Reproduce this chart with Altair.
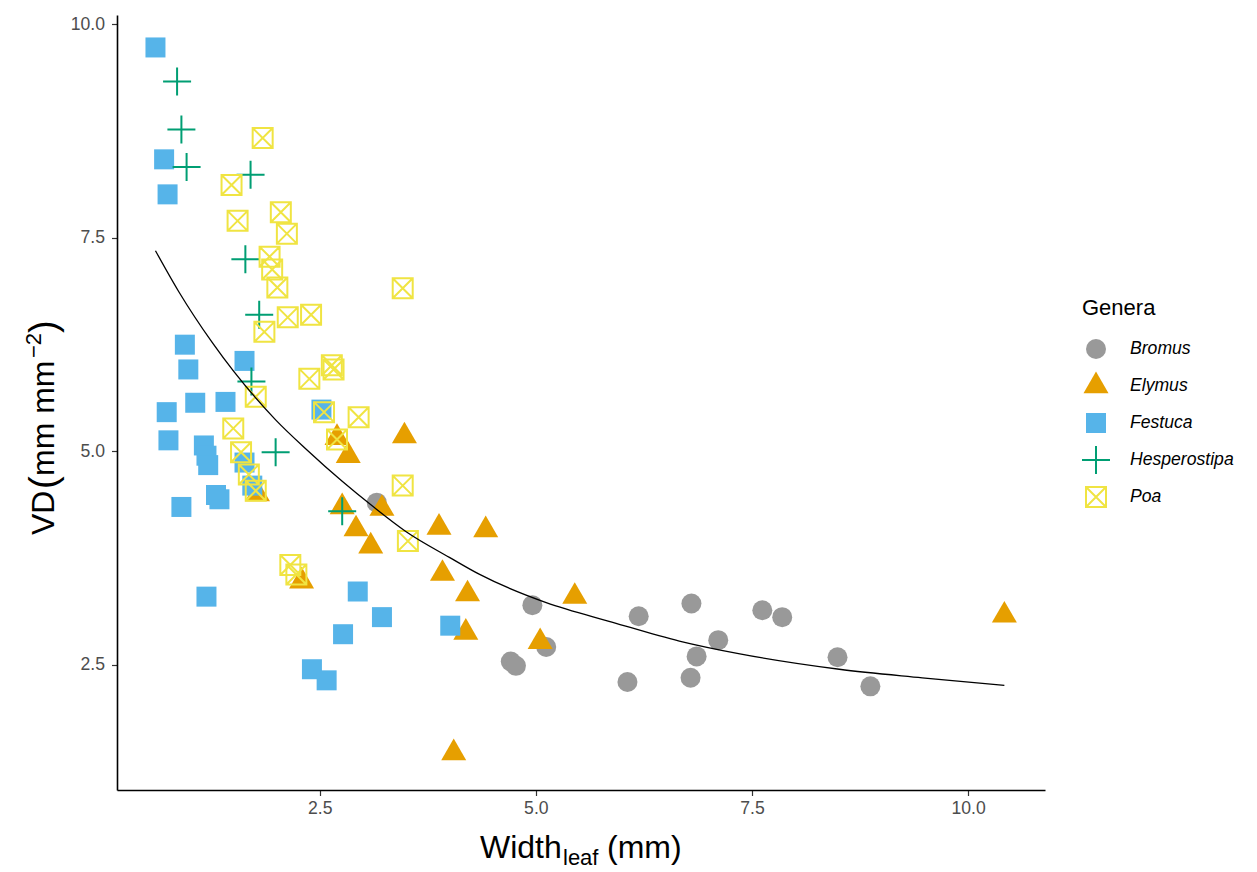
import altair as alt
import pandas as pd

genera = ["Bromus", "Elymus", "Festuca", "Hesperostipa", "Poa"]

bromus_x = [3.16, 4.71, 4.77, 4.96, 5.12, 6.06, 6.19, 6.79, 6.80, 6.86, 7.11, 7.62, 7.85, 8.49, 8.87]
bromus_y = [4.40, 2.54, 2.49, 3.20, 2.71, 2.30, 3.07, 2.35, 3.22, 2.60, 2.79, 3.14, 3.06, 2.59, 2.25]

elymus_x = [3.48, 2.83, 2.70, 1.78, 2.76, 3.22, 2.92, 3.09, 3.88, 3.92, 2.29, 4.42, 4.21, 5.45, 4.19, 5.05, 4.05, 10.42]
elymus_y = [5.18, 4.95, 5.16, 4.50, 4.35, 4.33, 4.09, 3.89, 4.11, 3.57, 3.48, 4.08, 3.33, 3.30, 2.88, 2.77, 1.47, 3.08]

festuca_x = [0.60, 0.70, 0.74, 0.94, 0.98, 0.73, 0.75, 1.06, 1.41, 0.90, 1.16, 1.19, 1.21, 1.30, 1.34,
             1.19, 1.63, 2.52, 1.63, 1.72, 2.94, 2.77, 3.22, 2.41, 2.58, 4.01]
festuca_y = [9.73, 8.42, 8.01, 6.25, 5.96, 5.46, 5.13, 5.57, 5.58, 4.35, 5.07, 4.95, 4.84, 4.49, 4.44,
             3.30, 6.06, 5.49, 4.87, 4.60, 3.36, 2.86, 3.06, 2.45, 2.32, 2.96]

hesperostipa_x = [0.85, 0.90, 0.96, 1.70, 1.64, 1.80, 1.71, 1.99, 2.76]
hesperostipa_y = [9.33, 8.77, 8.33, 8.24, 7.25, 6.60, 5.82, 4.99, 4.30]

poa_x = [1.84, 1.48, 1.55, 2.05, 2.12, 1.92, 1.95, 2.01, 3.46, 2.13, 2.40, 1.86, 2.64, 2.66, 2.38,
         1.76, 2.55, 2.95, 2.70, 1.50, 1.59, 1.68, 1.76, 3.46, 3.52, 2.16, 2.23]
poa_y = [8.67, 8.12, 7.70, 7.80, 7.55, 7.28, 7.13, 6.92, 6.91, 6.57, 6.60, 6.40, 6.01, 5.96, 5.85,
         5.64, 5.46, 5.40, 5.14, 5.27, 4.99, 4.73, 4.54, 4.60, 3.95, 3.67, 3.56]

fit_x = [0.60, 0.87, 1.26, 1.99, 2.35, 2.76, 3.11, 3.50, 4.00, 4.35, 5.12, 5.89, 6.66, 7.36, 8.51, 9.47, 10.42]
fit_y = [7.35, 6.87, 6.27, 5.37, 5.02, 4.65, 4.36, 4.06, 3.76, 3.56, 3.23, 3.00, 2.78, 2.63, 2.45, 2.35, 2.26]

x_ticks = [2.5, 5.0, 7.5, 10.0]
y_ticks = [2.5, 5.0, 7.5, 10.0]

rows = []
for g, xs, ys in [("Bromus", bromus_x, bromus_y), ("Elymus", elymus_x, elymus_y),
                  ("Festuca", festuca_x, festuca_y), ("Hesperostipa", hesperostipa_x, hesperostipa_y),
                  ("Poa", poa_x, poa_y)]:
    for a, b in zip(xs, ys):
        rows.append({"Genera": g, "w": a, "vd": b})
df = pd.DataFrame(rows)
fit = pd.DataFrame({"w": fit_x, "vd": fit_y})

FONT = "Liberation Sans"
xscale = alt.Scale(domain=[0.155, 10.89], nice=False, zero=False)
yscale = alt.Scale(domain=[1.036, 10.11], nice=False, zero=False)

shape_range = ["circle",
               "M0,-1.44L1.25,0.72L-1.25,0.72Z",
               "square",
               "M-1.4,0L1.4,0M0,-1.4L0,1.4",
               "M-1,-1L1,-1L1,1L-1,1ZM-1,-1L1,1M-1,1L1,-1"]
fill_range = ["#999999", "#E69F00", "#56B4E9", "transparent", "transparent"]
stroke_range = ["transparent", "transparent", "transparent", "#009E73", "#F0E442"]

legend = alt.Legend(
    title="Genera", orient="none", legendX=965, legendY=283,
    titleFont=FONT, titleFontSize=22, titleFontWeight="normal", titleColor="black",
    titlePadding=18, labelFont=FONT, labelFontSize=17.6, labelFontStyle="italic",
    labelColor="black", symbolSize=400, symbolStrokeWidth=2, symbolOpacity=1,
    symbolOffset=3, gridAlign="all", rowPadding=0, labelOffset=23, padding=0,
)

axis_common = dict(
    grid=False, title=None, format=".1f", domainColor="black", domainWidth=1.6,
    tickColor="#333333", tickWidth=1.2, tickSize=5.5, labelColor="#4D4D4D",
    labelFont=FONT, labelFontSize=17.6,
)

points = alt.Chart(df).mark_point(size=400, strokeWidth=2, opacity=1).encode(
    x=alt.X("w:Q", scale=xscale, axis=alt.Axis(values=x_ticks, labelPadding=4, **axis_common)),
    y=alt.Y("vd:Q", scale=yscale, axis=alt.Axis(values=y_ticks, labelPadding=7, **axis_common)),
    shape=alt.Shape("Genera:N", scale=alt.Scale(domain=genera, range=shape_range), legend=legend),
    fill=alt.Fill("Genera:N", scale=alt.Scale(domain=genera, range=fill_range), legend=legend),
    stroke=alt.Stroke("Genera:N", scale=alt.Scale(domain=genera, range=stroke_range), legend=legend),
)

curve = alt.Chart(fit).mark_line(color="black", strokeWidth=1.3, interpolate="monotone").encode(
    x=alt.X("w:Q", scale=xscale), y=alt.Y("vd:Q", scale=yscale)
)


def txt(s, x, y, size, angle=0, align="left"):
    return alt.Chart(pd.DataFrame({"t": [s]})).mark_text(
        font=FONT, fontSize=size, color="black", align=align, baseline="alphabetic", angle=angle
    ).encode(text="t:N", x=alt.value(x), y=alt.value(y))


# x title: Width_leaf (mm)
xt1 = txt("Width", 363, 843, 32)
xt2 = txt("leaf", 446, 850, 22)
xt3 = txt("(mm)", 490, 843, 32)
# y title: VD (mm mm^-2)
yt1 = txt("VD", -63, 520, 32, angle=270)
yt1b = txt("(", -61, 474, 38, angle=270)
yt1c = txt("mm mm", -63, 461, 32, angle=270)
yt2 = txt("\u22122", -76, 343, 22, angle=270)
yt3 = txt(")", -61, 318, 38, angle=270)

chart = alt.layer(points, curve, xt1, xt2, xt3, yt1, yt1b, yt1c, yt2, yt3).properties(
    width=928, height=775,
    padding={"left": 117, "top": 15, "right": 212, "bottom": 82},
    autosize=alt.AutoSizeParams(type="none"),
    background="white",
).configure_view(stroke=None)

chart.save("out.html", embed_options={"renderer": "svg", "actions": False})
